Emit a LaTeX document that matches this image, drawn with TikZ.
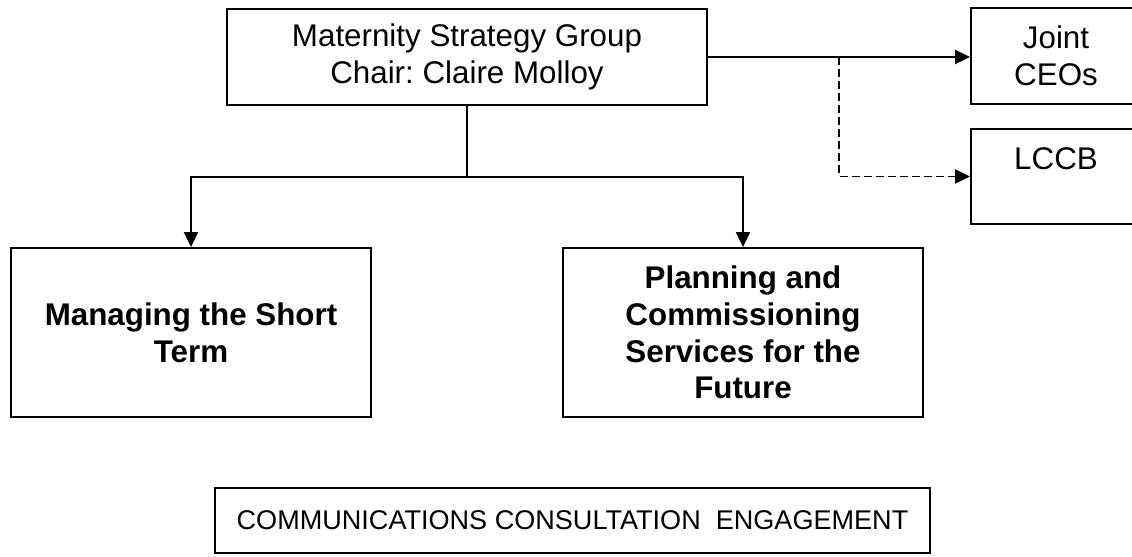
\documentclass[tikz,border=0pt]{standalone}
\usepackage{fontspec}
\setmainfont{Liberation Sans}
\usetikzlibrary{arrows.meta}
\frenchspacing

\tikzset{
  box/.style={draw, line width=1.4pt, rectangle, align=center, inner sep=0pt,
    font=\fontsize{23.5}{27.5}\selectfont},
  boldbox/.style={box, font=\fontsize{23.5}{27.5}\selectfont\bfseries},
  link/.style={line width=1.4pt, -{Triangle[length=11.25pt,width=10.5pt]}},
  dottedlink/.style={link, dash pattern=on 6pt off 3pt},
  plain/.style={line width=1.4pt}
}

\begin{document}
\begin{tikzpicture}[x=0.75pt, y=-0.75pt]
  \clip (0,0) rectangle (1132,557);
  \fill[white] (0,0) rectangle (1132,557);

  % governance boxes (sizes in pt)
  \node[box, minimum width=360pt, minimum height=72pt] (msg) at (467,57)
    {Maternity Strategy Group\\Chair: Claire Molloy};
  \node[box, minimum width=127.5pt, minimum height=72pt] (ceo) at (1056,56)
    {Joint\\CEOs};
  \node[box, minimum width=127.5pt, minimum height=71.25pt] (lccb) at (1056,176.5)
    {LCCB\\\mbox{}};

  % workstreams
  \node[boldbox, minimum width=270pt, minimum height=126.75pt] (short) at (191,332.5)
    {Managing the Short\\Term};
  \node[boldbox, minimum width=270pt, minimum height=126.75pt] (plan) at (743,332.5)
    {Planning and\\Commissioning\\Services for the\\Future};

  % cross-cutting theme
  \node[box, minimum width=536.25pt, minimum height=48.75pt,
    font=\fontsize{20.3}{24}\selectfont] (comm) at (572.5,520.5)
    {COMMUNICATIONS CONSULTATION\ \ ENGAGEMENT};

  % reporting lines
  \coordinate (split) at (467,177);
  \coordinate (branch) at (839,57);
  \draw[plain] (msg.south) -- (split);
  \draw[link] (split) -| (short.north);
  \draw[link] (split) -| (plan.north);
  \draw[link] (msg.east) -- (msg.east -| ceo.west);
  \draw[dottedlink] (branch) |- (lccb.west);
\end{tikzpicture}
\end{document}
